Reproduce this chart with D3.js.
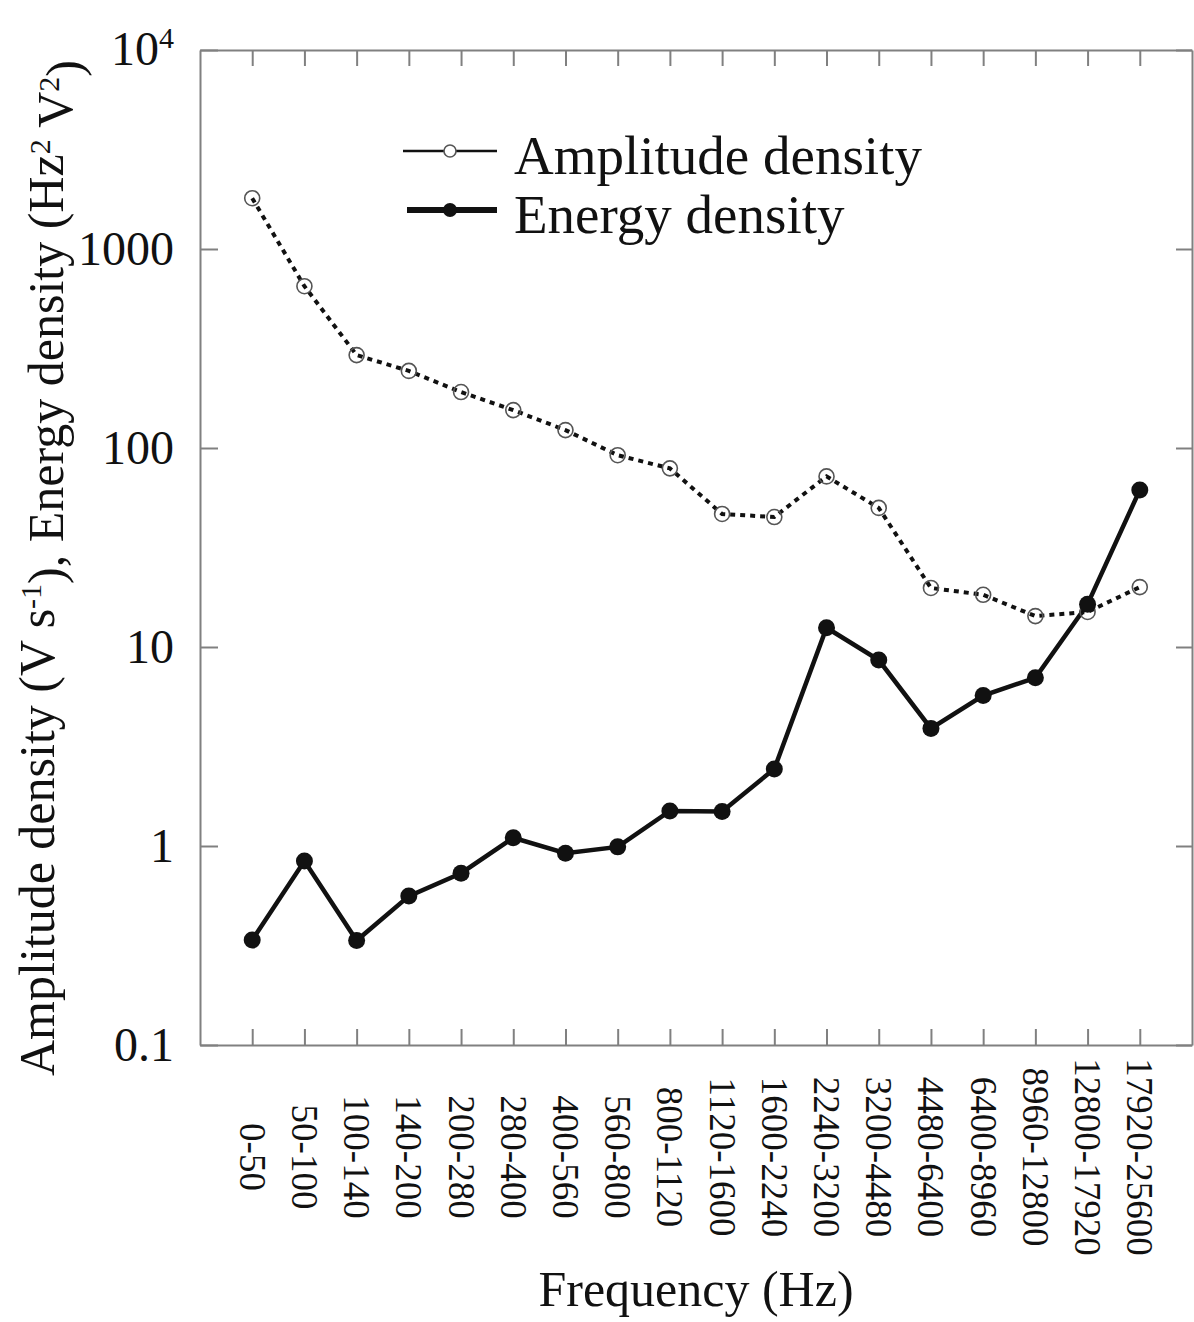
<!DOCTYPE html>
<html>
<head>
<meta charset="utf-8">
<script src="https://cdnjs.cloudflare.com/ajax/libs/d3/7.8.5/d3.min.js"></script>
<style>
  body { margin: 0; background: #fff; }
  svg text { font-family: "Liberation Serif", "Times New Roman", serif; fill: #111; }
</style>
</head>
<body>
<div id="chart"></div>
<script>
"use strict";

// frequency bands (x categories)
const bands = ["0-50", "50-100", "100-140", "140-200", "200-280", "280-400", "400-560",
  "560-800", "800-1120", "1120-1600", "1600-2240", "2240-3200", "3200-4480",
  "4480-6400", "6400-8960", "8960-12800", "12800-17920", "17920-25600"];

// series values
const amplitude = [1800, 650, 293, 244, 191, 155, 123, 92, 79, 46.6, 45, 72, 50,
  19.8, 18.3, 14.3, 15.0, 20];
const energy = [0.337, 0.84, 0.335, 0.56, 0.73, 1.10, 0.92, 0.99, 1.50, 1.49, 2.44,
  12.5, 8.6, 3.9, 5.7, 7.0, 16.4, 61.5];

const yTicks = [0.1, 1, 10, 100, 1000, 10000];

const width = 1194, height = 1322;
const margin = {top: 50, right: 2, bottom: 277, left: 200};
const plotW = width - margin.left - margin.right;
const plotH = height - margin.top - margin.bottom;

const svg = d3.select("#chart").append("svg")
  .attr("width", width)
  .attr("height", height);

const g = svg.append("g")
  .attr("transform", `translate(${margin.left},${margin.top})`);

/* scales */
const x = d3.scalePoint()
  .domain(bands)
  .range([0, plotW])
  .padding(1);

const y = d3.scaleLog()
  .domain([0.1, 10000])
  .range([plotH, 0]);

const frameColor = "#808080";

/* axes: ticks point inward on all four sides */
const bottomAxis = g.append("g")
  .attr("transform", `translate(0,${plotH})`)
  .call(d3.axisBottom(x).tickSizeInner(-16).tickSizeOuter(0).tickPadding(0));

bottomAxis.selectAll("text")
  .attr("transform", d => `translate(0,${1157 - margin.top - plotH}) rotate(90)`)
  .attr("y", 0)
  .attr("dy", "0.35em")
  .style("text-anchor", "middle")
  .style("font-size", "37px");

g.append("g")
  .call(d3.axisTop(x).tickSizeInner(-16).tickSizeOuter(0).tickFormat(""));

const leftAxis = g.append("g")
  .call(d3.axisLeft(y).tickValues(yTicks).tickSizeInner(-18).tickSizeOuter(0)
    .tickPadding(26).tickFormat(d => d === 10000 ? "" : String(d)));

leftAxis.selectAll("text")
  .style("font-size", "48px")
  .style("font-family", "'Liberation Serif', serif");

// 10^4 label with superscript
leftAxis.selectAll(".tick")
  .filter(d => d === 10000)
  .select("text")
  .each(function() {
    const t = d3.select(this);
    t.append("tspan").text("10");
    t.append("tspan").attr("dy", "-0.55em").style("font-size", "30px").text("4");
  })
  .attr("dy", "0.3em");

g.append("g")
  .attr("transform", `translate(${plotW},0)`)
  .call(d3.axisRight(y).tickValues(yTicks).tickSizeInner(-16).tickSizeOuter(0).tickFormat(""));

g.selectAll(".domain, .tick line")
  .attr("stroke", frameColor)
  .attr("stroke-width", 2);

/* lines */
const line = d3.line()
  .x((d, i) => x(bands[i]))
  .y(d => y(d));

g.append("path")
  .datum(amplitude)
  .attr("fill", "none")
  .attr("stroke", "#111")
  .attr("stroke-width", 4)
  .attr("stroke-dasharray", "5,5")
  .attr("d", line);

g.append("path")
  .datum(energy)
  .attr("fill", "none")
  .attr("stroke", "#111")
  .attr("stroke-width", 4.5)
  .attr("d", line);

g.selectAll(".ampDot")
  .data(amplitude)
  .enter().append("circle")
  .attr("class", "ampDot")
  .attr("cx", (d, i) => x(bands[i]))
  .attr("cy", d => y(d))
  .attr("r", 7.5)
  .attr("fill", "none")
  .attr("stroke", "#555")
  .attr("stroke-width", 1.6);

g.selectAll(".enDot")
  .data(energy)
  .enter().append("circle")
  .attr("class", "enDot")
  .attr("cx", (d, i) => x(bands[i]))
  .attr("cy", d => y(d))
  .attr("r", 8.5)
  .attr("fill", "#111");

/* legend */
const legend = svg.append("g");

legend.append("line")
  .attr("x1", 403).attr("x2", 497).attr("y1", 151).attr("y2", 151)
  .attr("stroke", "#111").attr("stroke-width", 2.5);
legend.append("circle")
  .attr("cx", 450).attr("cy", 151).attr("r", 6)
  .attr("fill", "#fff").attr("stroke", "#555").attr("stroke-width", 1.6);
legend.append("text")
  .attr("x", 514).attr("y", 174)
  .style("font-size", "55px")
  .text("Amplitude density");

legend.append("line")
  .attr("x1", 407).attr("x2", 497).attr("y1", 210).attr("y2", 210)
  .attr("stroke", "#111").attr("stroke-width", 6);
legend.append("circle")
  .attr("cx", 450).attr("cy", 210).attr("r", 7)
  .attr("fill", "#111");
legend.append("text")
  .attr("x", 514).attr("y", 233)
  .style("font-size", "55px")
  .text("Energy density");

/* axis titles */
svg.append("text")
  .attr("x", margin.left + plotW / 2)
  .attr("y", 1306)
  .style("text-anchor", "middle")
  .style("font-size", "50px")
  .text("Frequency (Hz)");

const yTitle = svg.append("text")
  .attr("transform", "translate(54,568) rotate(-90)")
  .style("text-anchor", "middle")
  .style("font-size", "50px");
yTitle.append("tspan").text("Amplitude density (V s");
yTitle.append("tspan").attr("dy", "-0.45em").style("font-size", "30px").text("-1");
yTitle.append("tspan").attr("dy", "0.45em").text("), Energy density (Hz");
yTitle.append("tspan").attr("dy", "-0.45em").style("font-size", "30px").text("2");
yTitle.append("tspan").attr("dy", "0.45em").text(" V");
yTitle.append("tspan").attr("dy", "-0.45em").style("font-size", "30px").text("2");
yTitle.append("tspan").attr("dy", "0.45em").text(")");
</script>
</body>
</html>
